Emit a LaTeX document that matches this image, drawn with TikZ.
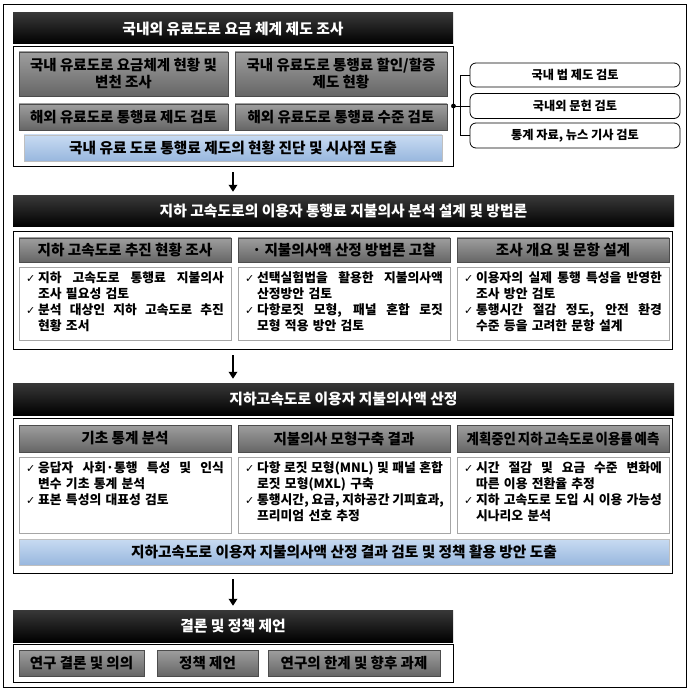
\documentclass[tikz,border=0pt]{standalone}
\usepackage{fontspec}
\setmainfont{Noto Sans CJK KR}
\newfontfamily\chkfont{DejaVu Sans}
\usetikzlibrary{arrows.meta}

\newcommand\fs[2]{\fontsize{#1}{#2}\selectfont}
\newcommand\chkmark{\makebox[0.95em][l]{\chkfont\fs{11}{11}\mdseries ✓}}
\newcommand\chk[2]{\noindent\hbox to\hsize{\spaceskip=0.22em plus 1fil\relax
  \chkmark#1}\par
  \noindent\hspace*{0.95em}#2\par}
\newcommand\chkone[1]{\noindent\chkmark#1\par}
\newcommand\tight[1]{\scalebox{0.92}[1]{\spaceskip=2pt\relax#1}}

\begin{document}
\begin{tikzpicture}[x=1pt,y=-1pt,
    hdr/.style={fill=black,top color=black!78,bottom color=black,text=white,
      font=\bfseries\fs{14.8}{17},inner sep=0pt},
    frm/.style={draw=black,line width=0.9pt,fill=white,inner sep=0pt},
    gbox/.style={draw=black!70,top color=black!38,bottom color=black!60,
      font=\bfseries\fs{14.5}{17},align=center,inner sep=0pt},
    bbox/.style={draw=black!25,top color={rgb,255:red,200;green,219;blue,242},
      bottom color={rgb,255:red,152;green,183;blue,222},
      font=\bfseries\fs{14.7}{16},inner sep=0pt},
    body/.style={draw=black!35,fill=white,anchor=north,text width=198pt,
      inner xsep=7pt,inner ysep=6pt,text height=9pt,text depth=52pt,
      font=\bfseries\fs{12.8}{16}},
    rbox/.style={draw=black,line width=0.8pt,rounded corners=6pt,fill=white,
      minimum width=210pt,minimum height=24pt,inner sep=0pt,
      font=\bfseries\fs{12.2}{14}},
    arr/.style={line width=2.3pt,-{Triangle[length=7pt,width=8.5pt]},
      shorten <=6pt,shorten >=4pt}]

  \useasboundingbox (0,0) rectangle (690,692);
  \draw[line width=0.8pt] (3,4) rectangle (686,687);

  % stage 1
  \node[frm,minimum width=440pt,minimum height=120pt] (f1) at (233,106) {};
  \node[hdr,minimum width=440pt,minimum height=31pt] (h1) at (233,28.5)
    {국내외 유료도로 요금 체계 제도 조사};
  \begin{scope}[every node/.append style={gbox}]
    \node[minimum width=209pt,minimum height=44pt] (a1) at (123.5,74)
      {국내 유료도로 요금체계 현황 및\\변천 조사};
    \node[minimum width=212pt,minimum height=44pt] (a2) at (341,74)
      {국내 유료도로 통행료 할인/할증\\제도 현황};
    \node[minimum width=209pt,minimum height=26pt] (a3) at (123.5,117)
      {해외 유료도로 통행료 제도 검토};
    \node[minimum width=212pt,minimum height=26pt] (a4) at (341,117)
      {해외 유료도로 통행료 수준 검토};
  \end{scope}
  \node[bbox,minimum width=418pt,minimum height=26pt] (a5) at (233,148)
    {국내 유료 도로 통행료 제도의 현황 진단 및 시사점 도출};

  \node[rbox] (r1) at (575,75) {국내 법 제도 검토};
  \node[rbox,minimum height=25pt] (r2) at (575,106) {국내외 문헌 검토};
  \node[rbox,minimum height=25pt] (r3) at (575,135.5) {통계 자료, 뉴스 기사 검토};
  \draw[line width=0.8pt] (f1.east) -- (r2.west);
  \draw[line width=0.8pt] (r1.west) -- ++(-9,0) |- (r3.west);
  \fill (f1.east) circle (2.4pt);

  % stage 2
  \node[frm,minimum width=659pt,minimum height=118pt] (f2) at (342.5,290) {};
  \node[hdr,minimum width=661pt,minimum height=31pt] (h2) at (343.5,211.5)
    {지하 고속도로의 이용자 통행료 지불의사 분석 설계 및 방법론};
  \begin{scope}[every node/.append style={gbox,font=\bfseries\fs{14.6}{17},
      minimum width=212pt,minimum height=24pt}]
    \node (c1) at (125,250) {지하 고속도로 추진 현황 조사};
    \node (c2) at (344,250) {· 지불의사액 산정 방법론 고찰};
    \node (c3) at (563,250) {조사 개요 및 문항 설계};
  \end{scope}
  \node[body] (b1) at (125,267)
    {\chk{지하 고속도로 통행료 지불의사}{조사 필요성 검토}
     \chk{분석 대상인 지하 고속도로 추진}{현황 조서}};
  \node[body] (b2) at (344,267)
    {\chk{선택실험법을 활용한 지불의사액}{산정방안 검토}
     \chk{다항로짓 모형, 패널 혼합 로짓}{모형 적용 방안 검토}};
  \node[body] (b3) at (563,267)
    {\chk{이용자의 실제 통행 특성을 반영한}{조사 방안 검토}
     \chk{통행시간 절감 정도, 안전 환경}{수준 등을 고려한 문항 설계}};

  % stage 3
  \node[frm,minimum width=659pt,minimum height=155pt] (f3) at (342.5,495.5) {};
  \node[hdr,minimum width=661pt,minimum height=32pt] (h3) at (343.5,399)
    {지하고속도로 이용자 지불의사액 산정};
  \begin{scope}[every node/.append style={gbox,font=\bfseries\fs{14.6}{17},
      minimum width=212pt,minimum height=27pt}]
    \node (c4) at (125,438.5) {기초 통계 분석};
    \node (c5) at (344,438.5) {지불의사 모형구축 결과};
    \node (c6) at (563,438.5) {\tight{계획중인 지하 고속도로 이용률 예측}};
  \end{scope}
  \begin{scope}[every node/.append style={body,text depth=55pt}]
    \node (b4) at (125,457)
      {\chk{응답자 사회·통행 특성 및 인식}{변수 기초 통계 분석}
       \chkone{표본 특성의 대표성 검토}};
    \node (b5) at (344,457)
      {\chk{다항 로짓 모형(MNL) 및 패널 혼합}{로짓 모형(MXL) 구축}
       \chk{통행시간, 요금, 지하공간 기피효과,}{프리미엄 선호 추정}};
    \node (b6) at (563,457)
      {\chk{시간 절감 및 요금 수준 변화에}{따른 이용 전환율 추정}
       \chk{지하 고속도로 도입 시 이용 가능성}{시나리오 분석}};
  \end{scope}
  \node[bbox,minimum width=650pt,minimum height=26pt] (c7) at (344,552)
    {지하고속도로 이용자 지불의사액 산정 결과 검토 및 정책 활용 방안 도출};

  % stage 4
  \node[frm,minimum width=440pt,minimum height=38pt] (f4) at (233,663) {};
  \node[hdr,minimum width=440pt,minimum height=32pt] (h4) at (233,626)
    {결론 및 정책 제언};
  \begin{scope}[every node/.append style={gbox,minimum height=26pt}]
    \node[minimum width=125pt] (d1) at (81.5,663) {연구 결론 및 의의};
    \node[minimum width=101pt] (d2) at (207.5,663) {정책 제언};
    \node[minimum width=172pt] (d3) at (354,663) {연구의 한계 및 향후 과제};
  \end{scope}

  % flow
  \draw[arr] (f1.south) -- (f1.south |- h2.north);
  \draw[arr] (f1.south |- f2.south) -- (f1.south |- h3.north);
  \draw[arr] (f1.south |- f3.south) -- (h4.north);

\end{tikzpicture}
\end{document}
